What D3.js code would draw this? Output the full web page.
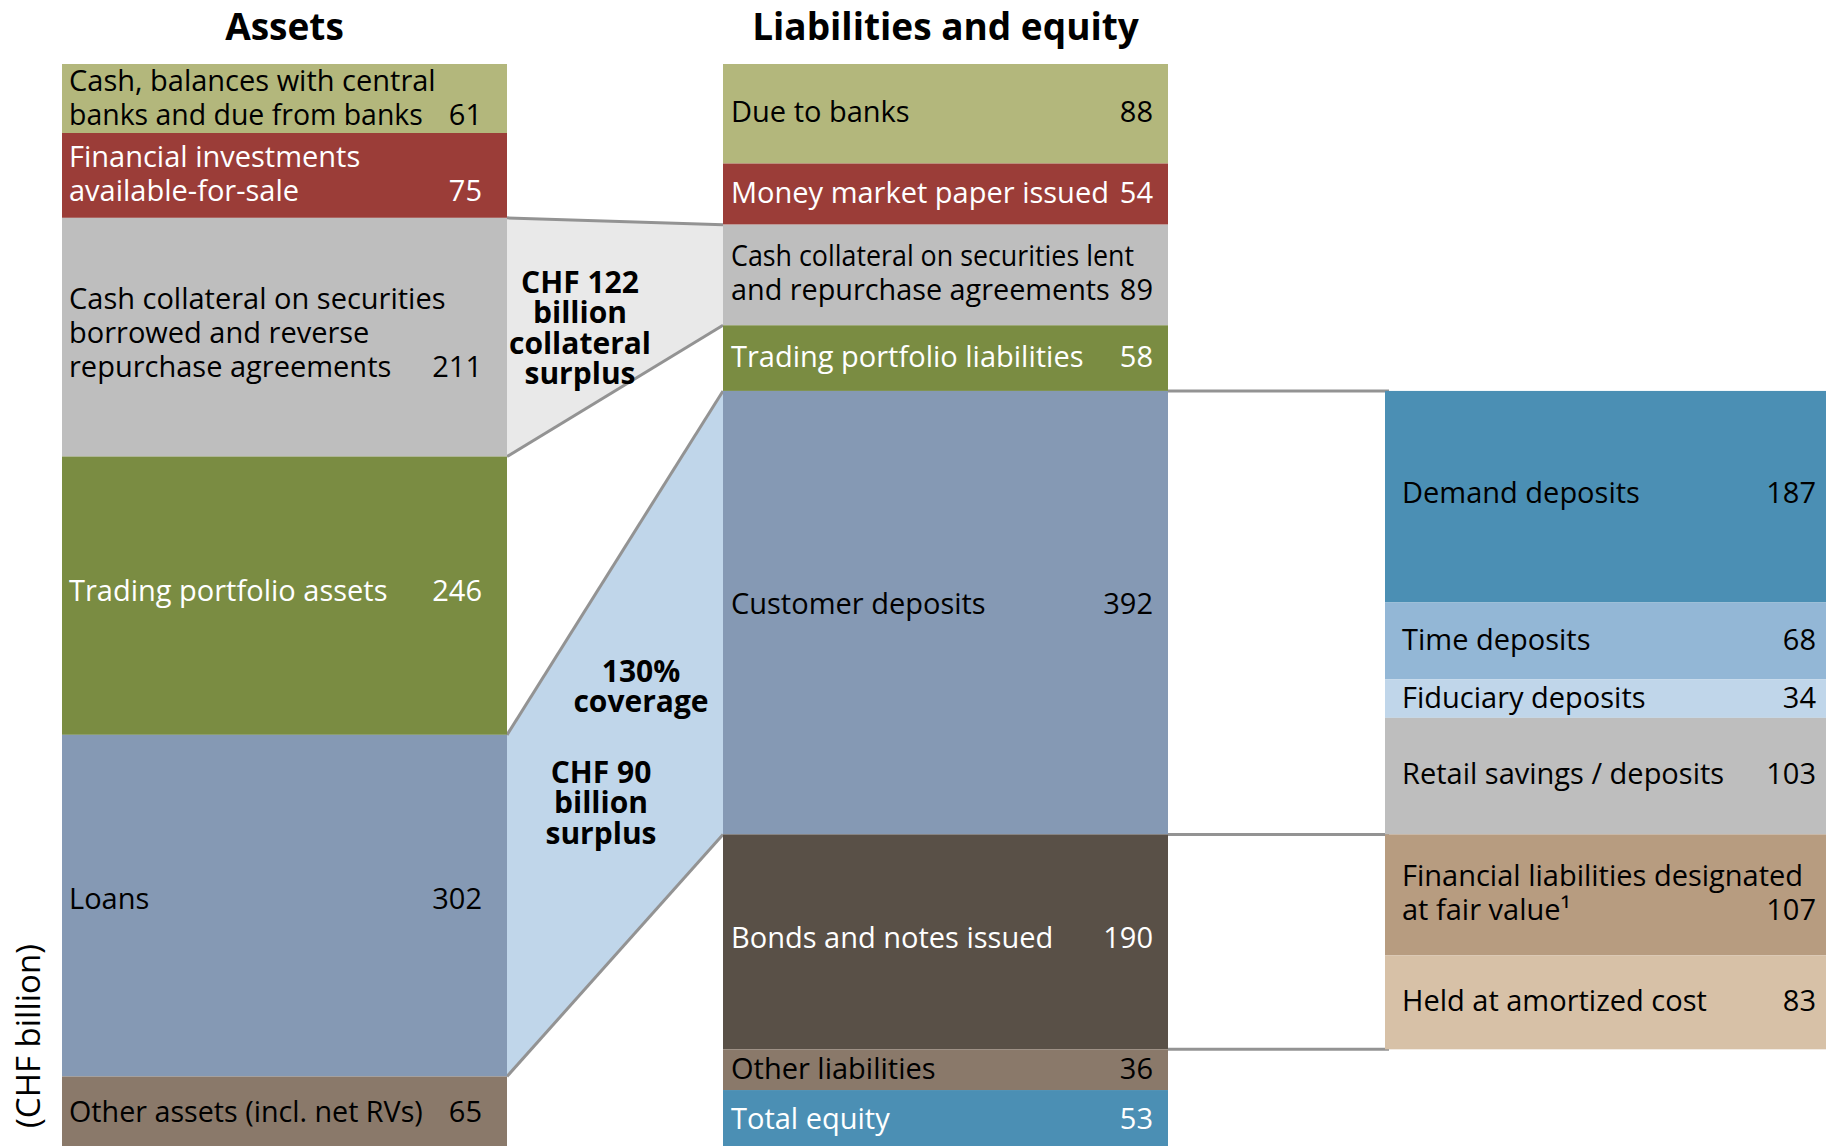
<!DOCTYPE html>
<html>
<head>
<meta charset="utf-8">
<script src="https://cdn.jsdelivr.net/npm/d3@7/dist/d3.min.js"></script>
<style>
  body { margin: 0; background: #fff; overflow: hidden; }
  svg { display: block; font-family: 'Open Sans', 'Noto Sans', sans-serif; }
</style>
</head>
<body>
<div class="chart"></div>
<script>
'use strict'

// balance sheet, CHF billion
const assetLabels = [
  ['Cash, balances with central', 'banks and due from banks'],
  ['Financial investments', 'available-for-sale'],
  ['Cash collateral on securities', 'borrowed and reverse', 'repurchase agreements'],
  ['Trading portfolio assets'],
  ['Loans'],
  ['Other assets (incl. net RVs)']
]
const assetValues = [61, 75, 211, 246, 302, 65]

const liabLabels = [
  ['Due to banks'],
  ['Money market paper issued'],
  ['Cash collateral on securities lent', 'and repurchase agreements'],
  ['Trading portfolio liabilities'],
  ['Customer deposits'],
  ['Bonds and notes issued'],
  ['Other liabilities'],
  ['Total equity']
]
const liabValues = [88, 54, 89, 58, 392, 190, 36, 53]

// breakdown of customer deposits (392) and bonds and notes issued (190)
const detailLabels = [
  ['Demand deposits'],
  ['Time deposits'],
  ['Fiduciary deposits'],
  ['Retail savings / deposits'],
  ['Financial liabilities designated', 'at fair value\u00b9'],
  ['Held at amortized cost']
]
const detailValues = [187, 68, 34, 103, 107, 83]

const collateralNote = ['CHF 122', 'billion', 'collateral', 'surplus']
const coverageNote = ['130%', 'coverage']
const surplusNote = ['CHF 90', 'billion', 'surplus']

// styles
const assetFill = ['#b3b77c', '#9b3d38', '#bebebe', '#7a8c42', '#8599b4', '#8a796a']
const assetInk = ['#000', '#fff', '#000', '#fff', '#000', '#000']
const liabFill = ['#b3b77c', '#9b3d38', '#bebebe', '#7a8c42', '#8599b4', '#595047', '#8a796a', '#4b8fb4']
const liabInk = ['#000', '#fff', '#000', '#fff', '#000', '#fff', '#000', '#fff']
const detailFill = ['#4b8fb4', '#93b7d6', '#c0d6ea', '#bebebe', '#b79c80', '#d7c1a7']
const detailInk = ['#000', '#000', '#000', '#000', '#000', '#000']

const width = 1826
const height = 1146
const fontSize = 29
const lineH = 34

const svg = d3.select('.chart').append('svg')
  .attr('width', width)
  .attr('height', height)

const total = d3.sum(assetValues)
const y = d3.scaleLinear().domain([0, total]).range([64, 1150])

const col = {
  assets: [62, 507],
  liab: [723, 1168],
  detail: [1385, 1826]
}

const stack = function (values, start) {
  let acc = start || 0
  return values.map(function (v, i) {
    const d = { i: i, v: v, y0: acc, y1: acc + v }
    acc += v
    return d
  })
}

const assetStack = stack(assetValues)
const liabStack = stack(liabValues)
// detail column starts where customer deposits start
const detailStack = stack(detailValues, liabStack[4].y0)

const edge = '#939393'

// connector areas, drawn first so the columns sit on top
const trapezoid = function (a, b, fill) {
  const pts = [
    [col.assets[1], y(a.y0)], [col.liab[0], y(b.y0)],
    [col.liab[0], y(b.y1)], [col.assets[1], y(a.y1)]
  ]
  svg.append('polygon')
    .attr('points', pts.map(function (p) { return p.join(',') }).join(' '))
    .attr('fill', fill)
  svg.append('line')
    .attr('x1', pts[0][0]).attr('y1', pts[0][1])
    .attr('x2', pts[1][0]).attr('y2', pts[1][1])
    .attr('stroke', edge).attr('stroke-width', 3)
  svg.append('line')
    .attr('x1', pts[3][0]).attr('y1', pts[3][1])
    .attr('x2', pts[2][0]).attr('y2', pts[2][1])
    .attr('stroke', edge).attr('stroke-width', 3)
}
trapezoid(assetStack[2], liabStack[2], '#e9e9e9')
trapezoid(assetStack[4], liabStack[4], '#c0d6ea')

// horizontal guides to the breakdown column
;[liabStack[4].y0, liabStack[4].y1, liabStack[5].y1].forEach(function (v) {
  svg.append('line')
    .attr('x1', col.liab[1]).attr('x2', col.detail[0] + 4)
    .attr('y1', y(v)).attr('y2', y(v))
    .attr('stroke', edge).attr('stroke-width', 3)
})

const drawColumn = function (data, labels, fills, inks, x, opts) {
  const g = svg.append('g')
  g.selectAll('rect')
    .data(data)
    .enter().append('rect')
    .attr('x', x[0])
    .attr('width', x[1] - x[0])
    .attr('y', function (d) { return y(d.y0) })
    .attr('height', function (d) { return y(d.y1) - y(d.y0) })
    .attr('fill', function (d) { return fills[d.i] })

  data.forEach(function (d) {
    const lines = labels[d.i]
    const lx = x[0] + opts.padL
    const mid = (y(d.y0) + y(d.y1)) / 2 - (opts.lift || 0) * (y(d.y1) - y(d.y0))
    const first = mid - (lines.length - 1) * lineH / 2 + fontSize * 0.36

    const value = g.append('text')
      .attr('fill', inks[d.i])
      .attr('font-size', fontSize)
      .attr('text-anchor', 'end')
      .attr('x', opts.valueX)
      .attr('y', first + (lines.length - 1) * lineH)
      .text(d.v)
    const vw = value.node().getComputedTextLength()

    const t = g.append('text')
      .attr('fill', inks[d.i])
      .attr('font-size', fontSize)
    lines.forEach(function (line, k) {
      const ts = t.append('tspan').attr('x', lx).attr('y', first + k * lineH).text(line)
      // squeeze a line a little when it would run into the value or the edge
      const room = k === lines.length - 1
        ? opts.valueX - vw - opts.gap - lx
        : x[1] - lx - opts.margin
      if (ts.node().getComputedTextLength() > room) {
        ts.attr('textLength', room).attr('lengthAdjust', 'spacingAndGlyphs')
      }
    })
  })
}

drawColumn(assetStack, assetLabels, assetFill, assetInk, col.assets, { padL: 7, valueX: 482, lift: 0.02, gap: 26, margin: 30 })
drawColumn(liabStack, liabLabels, liabFill, liabInk, col.liab, { padL: 8, valueX: 1153, lift: 0.02, gap: 10, margin: 34 })
drawColumn(detailStack, detailLabels, detailFill, detailInk, col.detail, { padL: 17, valueX: 1816, lift: 0.02, gap: 20, margin: 8 })

// titles
const title = function (text, x) {
  svg.append('text')
    .attr('x', (x[0] + x[1]) / 2)
    .attr('y', 40)
    .attr('text-anchor', 'middle')
    .attr('font-size', 37)
    .attr('font-weight', 'bold')
    .text(text)
}
title('Assets', col.assets)
title('Liabilities and equity', col.liab)

// notes in the connector areas
const noteSize = 30
const note = function (lines, cx, cy) {
  const t = svg.append('text')
    .attr('text-anchor', 'middle')
    .attr('font-size', noteSize)
    .attr('font-weight', 'bold')
  lines.forEach(function (line, k) {
    t.append('tspan').attr('x', cx).attr('y', cy + k * 30.5 + noteSize * 0.36).text(line)
  })
}
note(collateralNote, 580, 282)
note(coverageNote, 641, 671)
note(surplusNote, 601, 772)

// unit label
svg.append('text')
  .attr('transform', 'translate(40,1036) rotate(-90)')
  .attr('text-anchor', 'middle')
  .attr('font-size', 33)
  .text('(CHF billion)')
</script>
</body>
</html>
